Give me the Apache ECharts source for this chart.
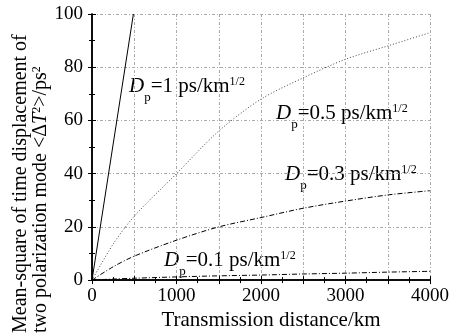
<!DOCTYPE html>
<html>
<head>
<meta charset="utf-8">
<script src="https://cdn.jsdelivr.net/npm/echarts@6/dist/echarts.min.js"></script>
<style>
  html, body { margin: 0; padding: 0; background: #fff; }
  #chart { width: 452px; height: 336px; }
</style>
</head>
<body>
<div id="chart"></div>
<script>
// Transmission distance (km) and mean-square DGD values (ps^2)
const distance = [0, 250, 500, 1000, 1500, 2000, 2500, 3000, 3500, 4000];
const dp05 = [0, 13.5, 24, 40, 56, 68, 76, 83, 88, 93];
const dp03 = [0, 5, 9, 15, 20, 23.5, 27, 29.7, 32, 33.6];
const dp01 = [0, 0.4, 0.7, 1.2, 1.6, 1.9, 2.3, 2.6, 3.0, 3.3];
const dp1Distance = [0, 490];
const dp1 = [0, 100];

const xTicks = [0, 1000, 2000, 3000, 4000];
const serif = 'Liberation Serif';

const pairs = (xs, ys) => xs.map((x, i) => [x, ys[i]]);

const chart = echarts.init(document.getElementById('chart'));

const gridLine = { show: true, lineStyle: { color: '#aaa', width: 1, type: [3, 2, 1, 2] } };
const frame = { show: true, lineStyle: { color: '#000', width: 1.5 } };
const tick = { show: true, inside: true, length: 4, lineStyle: { color: '#000' } };
const minor = { show: true, splitNumber: 2, length: 3, lineStyle: { color: '#000' } };

// main text hangs from the top of the line box, the subscript sits on its bottom
const labelRich = {
  d: { fontFamily: serif, fontStyle: 'italic', fontSize: 21, lineHeight: 28, verticalAlign: 'top', color: '#000' },
  sub: { fontFamily: serif, fontSize: 13, lineHeight: 28, verticalAlign: 'bottom', color: '#000' },
  t: { fontFamily: serif, fontSize: 21, lineHeight: 28, verticalAlign: 'top', color: '#000' },
  sup: { fontFamily: serif, fontSize: 12, lineHeight: 28, verticalAlign: 'top', color: '#000' }
};

const dpLabel = (value, x, y) => ({
  type: 'text', left: x, top: y,
  style: { text: '{d|D}{sub|p}{t|=' + value + ' ps/km}{sup|1/2}', rich: labelRich }
});

const titleRich = {
  t: { fontFamily: serif, fontSize: 20, lineHeight: 22, verticalAlign: 'top', color: '#000' },
  i: { fontFamily: serif, fontStyle: 'italic', fontSize: 20, lineHeight: 22, verticalAlign: 'top', color: '#000' },
  sup: { fontFamily: serif, fontSize: 12, lineHeight: 22, verticalAlign: 'top', color: '#000' }
};

chart.setOption({
  animation: false,
  grid: { left: 92, right: 15, top: 14, bottom: 44 },
  xAxis: [{
    type: 'value', min: 0, max: 4000, interval: 500,
    name: 'Transmission distance/km', nameLocation: 'middle', nameGap: 26,
    nameTextStyle: { fontFamily: serif, fontSize: 21, color: '#000', padding: [0, 0, 0, 20] },
    axisLine: frame, axisTick: tick, minorTick: minor,
    axisLabel: {
      fontFamily: serif, fontSize: 19, color: '#000', margin: 6,
      formatter: v => xTicks.includes(v) ? String(v) : ''
    },
    splitLine: gridLine
  }, {
    type: 'value', position: 'top', min: 0, max: 4000, interval: 500,
    axisLine: frame, axisTick: tick, minorTick: minor,
    axisLabel: { show: false }, splitLine: { show: false }
  }],
  yAxis: [{
    type: 'value', min: 0, max: 100, interval: 20,
    axisLine: frame, axisTick: tick, minorTick: minor,
    axisLabel: { fontFamily: serif, fontSize: 19, color: '#000', margin: 9 },
    splitLine: gridLine
  }, {
    type: 'value', position: 'right', min: 0, max: 100, interval: 20,
    axisLine: frame, axisTick: tick, minorTick: minor,
    axisLabel: { show: false }, splitLine: { show: false }
  }],
  series: [
    { name: 'Dp=1', type: 'line', data: pairs(dp1Distance, dp1), symbol: 'none',
      lineStyle: { color: '#000', width: 1 } },
    { name: 'Dp=0.5', type: 'line', data: pairs(distance, dp05), symbol: 'none', smooth: 0.3,
      lineStyle: { color: '#444', width: 1, type: [1, 2] } },
    { name: 'Dp=0.3', type: 'line', data: pairs(distance, dp03), symbol: 'none', smooth: 0.3,
      lineStyle: { color: '#000', width: 1, type: [5, 2, 1, 2] } },
    { name: 'Dp=0.1', type: 'line', data: pairs(distance, dp01), symbol: 'none', smooth: 0.3,
      lineStyle: { color: '#000', width: 1, type: [5, 2, 1, 2] } }
  ],
  graphic: [
    dpLabel('1', 129, 76),
    dpLabel('0.5', 276, 103),
    dpLabel('0.3', 285, 164),
    dpLabel('0.1', 164, 250),
    {
      type: 'text', x: 21, y: 333, rotation: Math.PI / 2,
      style: { text: 'Mean-square of time displacement of', fontFamily: serif, fontSize: 20,
        fill: '#000', textAlign: 'left', textVerticalAlign: 'middle' }
    },
    {
      type: 'text', x: 42, y: 333, rotation: Math.PI / 2,
      style: { text: '{t|two polarization mode <Δ}{i|T}{sup|2}{t|>/ps}{sup|2}', rich: titleRich,
        textAlign: 'left', textVerticalAlign: 'middle' }
    }
  ]
});
</script>
</body>
</html>
